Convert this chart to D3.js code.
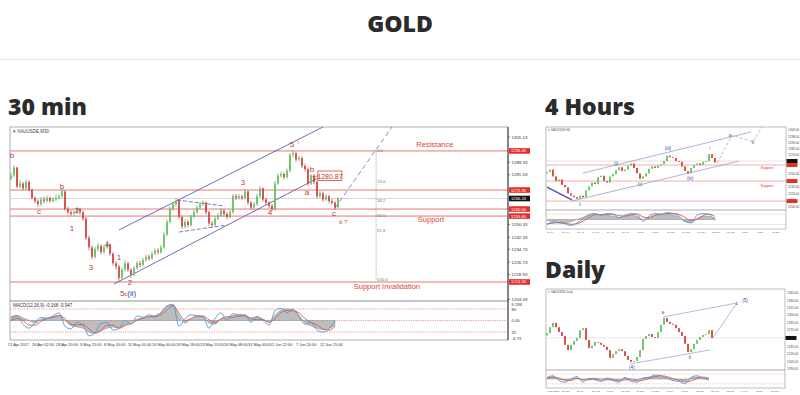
<!DOCTYPE html>
<html><head><meta charset="utf-8">
<script src="https://cdn.jsdelivr.net/npm/d3@7"></script>
<style>body{margin:0;background:#fff;}svg{display:block;}</style>
</head><body>
<svg id="c" width="800" height="395"></svg>
<script>
// ================= DATA =================
// ---- 30 min chart (XAUUSD M30) ----
const m30Open0 = 1279;
const m30Close = [1281,1286,1274,1276,1273,1277,1272,1267,1265,1263,
1266,1265,1267,1265,1266,1267,1268,1271,1260,1258,
1257,1258,1260,1258,1254,1242,1236,1230,1235,1237,
1233,1236,1238,1232,1226,1224,1217,1222,1226,1222,
1219,1223,1226,1225,1228,1230,1229,1232,1234,1233,
1236,1244,1252,1260,1263,1265,1255,1249,1252,1250,
1255,1258,1261,1263,1264,1258,1251,1250,1254,1256,
1259,1257,1255,1258,1268,1267,1268,1267,1271,1264,
1261,1263,1268,1273,1266,1264,1262,1260,1276,1281,
1282,1280,1284,1294,1295,1291,1292,1287,1285,1276,
1281,1277,1268,1270,1266,1268,1265,1264,1261,1266.6];
const m30High = [1283,1287.5,1286.5,1278,1277,1278.5,1278,1273,1268,1266,
1267.5,1268,1268.5,1268,1267.5,1269,1269.5,1273,1271.5,1261.5,
1259.5,1259.5,1261.5,1261,1259,1255,1243.5,1237,1236.5,1239,
1238,1237.5,1240,1238.5,1233,1227.5,1225,1223.5,1228,1227,
1223,1224.5,1227.5,1227.5,1229.5,1231.5,1231.5,1233.5,1235.5,1235.5,
1237.5,1245.5,1253.5,1261.5,1264.5,1266.5,1266,1256,1253.5,1253,
1256.5,1259.5,1262.5,1264.5,1265.5,1265,1259,1252.5,1255.5,1257.5,
1260.5,1260,1258,1259.5,1269.5,1269.5,1269.5,1269,1272.5,1271.5,
1265,1264.5,1269.5,1274.5,1273.5,1267,1265,1263,1277.5,1282.5,
1283.5,1283,1285.5,1295,1296.5,1296,1293.5,1293,1288.5,1286,
1282,1282,1278,1271.5,1271,1269.5,1269,1266.5,1265,1267.5];
const m30Low = [1278,1280,1273,1273,1271.5,1272,1271,1266,1263.5,1261.5,
1262,1263.5,1264,1264,1264,1265,1266,1267,1259,1256.5,
1255.5,1256,1257,1256.5,1252.5,1240.5,1234,1228.5,1229,1233.5,
1231.5,1232,1235,1230.5,1224.5,1222,1215,1216,1221,1220.5,
1217,1218,1222,1223.5,1224,1227,1227.5,1228,1231,1231.5,
1232,1235,1243,1251,1259,1261.5,1253.5,1247.5,1248,1248.5,
1249,1254,1257,1260,1262,1256.5,1249.5,1248.5,1249,1253,
1255,1255.5,1253.5,1254,1257,1265.5,1266,1265.5,1266,1262.5,
1259.5,1260,1262,1267,1264.5,1262.5,1260.5,1258.5,1259,1275,
1279.5,1278.5,1279,1283,1292.5,1289.5,1290,1285.5,1283.5,1274.5,
1275,1275.5,1266.5,1267,1264.5,1265,1263.5,1262.5,1259.5,1260.5];
const m30Levels = [1296.4, 1271.9, 1260.0, 1255.6, 1214.3];
const m30LevelText = ["1296.40","1271.90","1260.00","1255.60","1214.30"];
const m30Current = 1266.6;
const m30TickVals = [1305.13,1289.33,1281.53,1250.33,1242.33,1234.73,1226.73,1218.93,1203.33];
const m30DateLabels = ["21 Apr 2017","26 Apr 02:00","28 Apr 20:00","3 May 15:00","8 May 10:00","11 May 05:00","16 May 00:00","18 May 18:00","23 May 13:00","26 May 08:00","31 May 03:00","2 Jun 22:00","7 Jun 20:00","12 Jun 15:00"];
const m30DateIdx = [0,8,16,24,32,40,48,56,64,72,80,88,96,104];
// indicator values, one every 2 bars
const m30StochK = [55,62,40,30,45,58,55,62,70,35,28,45,38,10,18,42,45,25,30,50,40,62,58,65,60,72,88,92,35,55,65,62,60,30,55,70,50,68,60,65,45,60,50,38,75,82,70,80,60,40,45,25,20,28,50];
const m30StochD = [50,55,50,38,38,48,55,58,63,55,40,38,40,28,18,25,38,38,30,38,42,50,56,60,60,65,78,88,70,50,55,62,62,52,45,55,60,58,62,62,55,52,52,45,55,70,76,75,70,55,45,38,28,25,35];
const m30Macd = [1.5,2,1,0,-1,0.5,1,1.5,2,0,-2,-2.5,-3,-4.5,-5,-4,-3,-2.5,-3,-2,-0.5,0.5,1,1.5,2,3,5.5,6,2,-1,0.5,1.5,1.5,-1,-1.5,0.5,1,2,2.5,2,1,1.5,0.5,-0.5,2,4,4.5,4,2,-1,-2,-3,-3.5,-3,-2];
const m30IndTicks = [["6.296",6.296,"h"],["80",80,"s"],["0.00",50,"s"],["20",20,"s"],["-6.73",-6.73,"h"]];
// trend lines [bar index, price]
const m30Channel = [[[36,1246.9],[104,1311.4]], [[34.3,1213.0],[103,1280.1]]];
const m30Triangle = [[[55.3,1265.6],[71.3,1261.9]], [[56,1245.6],[72,1250.0]]];
const m30Projection = [[108,1260.6],[127,1311.4]];
const fibHigh = 1296, fibLow = 1215, fibIdx = 121.7;
const fibRatios = [0, 23.6, 38.2, 50.0, 61.8, 100.0];
// wave labels [text, bar index, price, colour]
const m30Waves = [["b",0.3,1292,"r"],["c",9.3,1256.9,"r"],["b",17,1272.6,"r"],["1",20.3,1246.2,"r"],["2",22,1257.5,"r"],
["3",26.7,1221.8,"r"],["4",32,1236.2,"r"],["1",36,1228.1,"r"],["2",39.7,1212.4,"r"],
["3",77.3,1275.1,"r"],["4",86.3,1256.3,"r"],["5",93.7,1298.9,"r"],["a",98.7,1268.8,"r"],["b",100.3,1283.2,"r"],["c",107.7,1255.6,"r"]];
const m30Notes = [["Resistance",141.3,1298.9],["Support",140,1251.9],["Support Invalidation",125.3,1210.2]];

// ---- 4 hour chart ----
const h4Close = [1252,1255,1246,1240,1242,1235,1232,1224,1221,1219,1217,1221,1219,1228,1233,1238,1236,1245,1247,1240,
1238,1246,1249,1254,1258,1253,1255,1260,1263,1257,1250,1243,1246,1250,1256,1259,1257,1260,1262,1266,
1273,1271,1270,1266,1265,1259,1253,1250,1257,1261,1263,1261,1265,1266,1275,1270,1264];
const h4Open0 = 1250;
const h4Levels = [1260.8, 1240, 1214];
const h4Current = 1266;
const h4TickVals = [1306,1298,1290,1282,1274,1250,1232,1224,1206];
const h4DateLabels = ["5 Apr","10 Apr","13 Apr","19 Apr","24 Apr","27 Apr","3 May","8 May","11 May","16 May","19 May","25 May","30 May","2 Jun","7 Jun","12 Jun"];
const h4StochK = [20,35,30,25,15,30,55,80,85,75,85,80,60,75,85,80,40,70,85,80,90,85,70,40,30,75,85,80,45];
const h4StochD = [25,28,32,28,22,25,40,62,78,80,80,82,72,70,78,82,65,60,75,82,85,86,80,62,45,52,72,82,68];
const h4Macd = [-1,-2,-3,-3,-2,0,2,4,5,4,4,3,2,3,4,3,0,2,4,4,5,4,2,-2,-3,1,3,3,1];
const h4Channel = [[[12,1250.4],[68,1303.7]], [[8.3,1214],[64,1266]]];
const h4Thick = [[0,1232.2],[8.3,1215.4]];
const h4Projection = [[56.7,1263.4],[61.7,1299.8],[68.7,1290.7],[72,1312.8]];
const h4Waves = [["ii",11,1207.6,"g"],["(i)",23,1260.8,"b"],["(ii)",31,1233.5,"g"],["(iii)",40.3,1280.3,"b"],["(iv)",47.7,1241.3,"b"],["i",54.3,1280.3,"r"],["a",61,1297.2,"r"],["b",68.7,1288,"r"]];
const h4Notes = [["Support",73.3,1255.6],["Support",73.3,1232.2]];

// ---- daily chart ----
const d1Close = [1263,1275,1284,1275,1265,1257,1239,1228,1239,1247,1253,1269,1273,1249,1232,1237,1245,1243,1239,1235,
1228,1212,1220,1226,1230,1226,1216,1208,1204,1206,1214,1228,1251,1257,1261,1255,1253,1265,1280,1294,
1286,1282,1280,1273,1265,1257,1241,1224,1230,1241,1249,1255,1259,1261,1269,1253];
const d1Open0 = 1258;
const d1Current = 1253;
const d1TickVals = [1345,1330,1315,1300,1285,1270,1235,1220,1205,1190];
const d1DateLabels = ["1 Jun 2016","27 Jun","20 Jul","12 Aug","6 Sep","29 Sep","24 Oct","16 Nov","9 Dec","3 Jan","26 Jan","20 Feb","15 Mar","7 Apr","2 May","25 May"];
const d1StochK = [60,70,40,30,50,65,30,55,45,35,50,40,30,60,35,30,55,60,75,70,55,40,35,20,60,70,55,45];
const d1StochD = [55,62,55,42,40,55,45,45,48,42,45,45,38,45,45,38,42,52,65,70,65,52,42,32,38,55,62,55];
const d1Macd = [1,2,0,-1,0,1,-1,0,1,0,1,0,-1,1,0,-1,1,2,3,2,1,0,-1,-2,1,2,1,0];
const d1Upper = [[38.7,1296],[63.3,1324.7]];
const d1Lower = [[27.7,1199.6],[54.3,1228.4]];
const d1Projection = [[55.3,1253],[63.3,1324.7]];
const d1Waves = [["(4)",28.3,1189.4,"b"],["a",38.7,1302.2,"r"],["b",47.7,1209.9,"r"],["c",63.3,1320.6,"r"],["(5)",66,1326.8,"b"]];

// ================= DRAWING =================
const svg = d3.select('#c');
const FONT = 'Liberation Sans, Arial, sans-serif';
const RED = '#e26a63', WAVE = '#b8403c', BLUE = '#2b4aa8', GREEN = '#3d9a3d';
const colourOf = c => c === 'r' ? WAVE : c === 'b' ? BLUE : GREEN;

// header
svg.append('text').attr('x',400).attr('y',32).attr('text-anchor','middle')
  .attr('font-family','Open Sans, sans-serif').attr('font-weight',800).attr('font-size',23).attr('fill','#2b2b2b').text('GOLD');
svg.append('line').attr('x1',0).attr('x2',800).attr('y1',59.5).attr('y2',59.5).attr('stroke','#e6e6e6');
[["30 min",8,115],["4 Hours",545,115],["Daily",545,278]].forEach(h=>{
  svg.append('text').attr('x',h[1]).attr('y',h[2]).attr('font-family','Open Sans, sans-serif')
    .attr('font-weight',800).attr('font-size',23).attr('fill','#2b2b2b').text(h[0]);
});

function drawCandles(g, x, y, open0, close, high, low, bw){
  const opens = close.map((c,i)=> i===0 ? open0 : close[i-1]);
  if (high) {
    g.append('g').selectAll('line').data(close).join('line')
      .attr('x1',(d,i)=>x(i)).attr('x2',(d,i)=>x(i))
      .attr('y1',(d,i)=>y(high[i])).attr('y2',(d,i)=>y(low[i]))
      .attr('stroke',(d,i)=> d>=opens[i] ? '#3f8f3f' : '#a52a2a').attr('stroke-width',0.6);
  }
  g.append('g').selectAll('rect').data(close).join('rect')
    .attr('x',(d,i)=>x(i)-bw/2).attr('width',bw)
    .attr('y',(d,i)=>y(Math.max(d,opens[i])))
    .attr('height',(d,i)=>Math.max(0.7, Math.abs(y(d)-y(opens[i]))))
    .attr('fill',(d,i)=> d>=opens[i] ? '#62c462' : '#d9413b');
}

function drawIndicator(g, x, ys, yh, step, k, dline, macd){
  const area = d3.area().x((d,i)=>x(i*step)).y0(yh(0)).y1(d=>yh(d)).curve(d3.curveMonotoneX);
  g.append('path').attr('d',area(macd)).attr('fill','#bdbdbd').attr('stroke','#8a8a8a').attr('stroke-width',0.5);
  const line = d3.line().x((d,i)=>x(i*step)).y(d=>ys(d)).curve(d3.curveMonotoneX);
  g.append('path').attr('d',line(dline)).attr('fill','none').attr('stroke','#e0574f').attr('stroke-width',0.9);
  g.append('path').attr('d',line(k)).attr('fill','none').attr('stroke','#4f97dc').attr('stroke-width',0.9);
}

// ---------- 30 MIN ----------
(function(){
  const L=10, R=508, T=127, MB=301, B=340;
  const x = d3.scaleLinear().domain([-1/3, 165.667]).range([L, R]);
  const y = d3.scaleLinear().domain([1203.33, 1305.13]).range([299.5, 137]);
  const ys = d3.scaleLinear().domain([0,100]).range([339.7, 301.3]);
  const yh = d3.scaleLinear().domain([-6.73, 6.296]).range([338, 304]);
  const g = svg.append('g');
  g.append('defs').append('clipPath').attr('id','m30clip').append('rect').attr('x',L).attr('y',T).attr('width',R-L).attr('height',MB-T);
  g.append('rect').attr('x',L).attr('y',T).attr('width',R-L).attr('height',B-T).attr('fill','#fff').attr('stroke','#9a9a9a').attr('stroke-width',0.8);
  g.append('line').attr('x1',L).attr('x2',R).attr('y1',MB).attr('y2',MB).attr('stroke','#777').attr('stroke-width',0.8);
  const main = g.append('g').attr('clip-path','url(#m30clip)');
  main.selectAll('line.lev').data(m30Levels).join('line').attr('class','lev')
    .attr('x1',L).attr('x2',R).attr('y1',d=>y(d)).attr('y2',d=>y(d)).attr('stroke',RED).attr('stroke-width',0.9);
  main.append('line').attr('x1',L).attr('x2',R).attr('y1',y(m30Current)).attr('y2',y(m30Current)).attr('stroke','#cfcfcf').attr('stroke-width',0.8);
  const lineGen = d3.line().x(d=>x(d[0])).y(d=>y(d[1]));
  m30Channel.forEach(c=> main.append('path').attr('d',lineGen(c)).attr('stroke','#5d5fb0').attr('stroke-width',0.9).attr('fill','none'));
  m30Triangle.forEach(c=> main.append('path').attr('d',lineGen(c)).attr('stroke','#6a6cb8').attr('stroke-width',0.9).attr('stroke-dasharray','4,2').attr('fill','none'));
  main.append('path').attr('d',lineGen(m30Projection)).attr('stroke','#7a7cc0').attr('stroke-width',0.9).attr('stroke-dasharray','5,3').attr('fill','none');
  main.append('line').attr('x1',x(fibIdx)).attr('x2',x(fibIdx)).attr('y1',y(fibHigh)).attr('y2',y(fibLow))
    .attr('stroke','#666').attr('stroke-width',0.7).attr('stroke-dasharray','1,1.5');
  main.selectAll('text.fib').data(fibRatios).join('text').attr('class','fib')
    .attr('x',x(fibIdx)+1).attr('y',d=>y(fibHigh-(fibHigh-fibLow)*d/100)+0.6)
    .attr('font-family',FONT).attr('font-size',4.2).attr('fill',GREEN).text(d=>d.toFixed(1));
  drawCandles(main, x, y, m30Open0, m30Close, m30High, m30Low, 1.7);
  main.selectAll('text.w').data(m30Waves).join('text').attr('class','w')
    .attr('x',d=>x(d[1])).attr('y',d=>y(d[2])).attr('text-anchor','middle')
    .attr('font-family',FONT).attr('font-size',8).attr('fill',d=>colourOf(d[3])).text(d=>d[0]);
  const t = main.append('text').attr('x',x(36.3)).attr('y',y(1205.5)).attr('font-family',FONT).attr('font-size',8);
  t.append('tspan').attr('fill',WAVE).text('5');
  t.append('tspan').attr('fill',WAVE).attr('font-size',6).text('c');
  t.append('tspan').attr('fill',BLUE).text('(ii)');
  main.append('text').attr('x',x(95.5)).attr('y',y(1300.5)).attr('font-family',FONT).attr('font-size',5).attr('fill',WAVE).text('i');
  main.append('text').attr('x',x(109.3)).attr('y',y(1250.6)).attr('font-family',FONT).attr('font-size',5.5).attr('fill','#a0522d').text('iii ?');
  main.append('line').attr('x1',x(100.4)).attr('x2',x(102.3)).attr('y1',y(1280.2)).attr('y2',y(1280.7)).attr('stroke','#d9413b').attr('stroke-width',0.7);
  main.append('rect').attr('x',x(102.3)).attr('y',y(1280.7)-5).attr('width',24).attr('height',9.5).attr('fill','#fff').attr('stroke','#d9413b').attr('stroke-width',0.8);
  main.append('text').attr('x',x(102.3)+12).attr('y',y(1280.7)+2.6).attr('text-anchor','middle').attr('font-family',FONT).attr('font-size',7).attr('fill','#c0392b').text('1280.87');
  main.selectAll('text.n').data(m30Notes).join('text').attr('class','n')
    .attr('x',d=>x(d[1])).attr('y',d=>y(d[2])).attr('text-anchor','middle')
    .attr('font-family',FONT).attr('font-size',7.5).attr('fill','#e0413a').text(d=>d[0]);
  g.append('text').attr('x',13).attr('y',132.5).attr('font-family',FONT).attr('font-size',4.5).attr('fill','#444').text('\u25BE XAUUSDE,M30');
  g.append('line').attr('x1',R).attr('x2',R).attr('y1',T).attr('y2',B).attr('stroke','#222').attr('stroke-width',0.9);
  const ax = g.append('g');
  ax.selectAll('text').data(m30TickVals).join('text').attr('x',R+3.5).attr('y',d=>y(d)+1.6)
    .attr('font-family',FONT).attr('font-size',4.4).attr('fill','#333').text(d=>d.toFixed(2));
  ax.selectAll('line').data(m30TickVals).join('line').attr('x1',R).attr('x2',R+2).attr('y1',d=>y(d)).attr('y2',d=>y(d)).attr('stroke','#333').attr('stroke-width',0.6);
  const boxes = m30Levels.map((v,i)=>[v,m30LevelText[i],'#e3302a']).concat([[m30Current,'1266.26','#111']]);
  const bx = g.append('g').selectAll('g').data(boxes).join('g');
  bx.append('rect').attr('x',R+1).attr('y',d=>y(d[0])-2.8).attr('width',21).attr('height',5.6).attr('fill',d=>d[2]);
  bx.append('text').attr('x',R+3).attr('y',d=>y(d[0])+1.5).attr('font-family',FONT).attr('font-size',4.2).attr('fill','#fff').text(d=>d[1]);
  const ind = g.append('g');
  [80,50,20].forEach(v=> ind.append('line').attr('x1',L).attr('x2',R).attr('y1',ys(v)).attr('y2',ys(v)).attr('stroke','#e06b66').attr('stroke-width',0.7).attr('stroke-dasharray','1.2,1.2'));
  drawIndicator(ind, x, ys, yh, 2, m30StochK, m30StochD, m30Macd);
  ind.append('text').attr('x',13).attr('y',306.5).attr('font-family',FONT).attr('font-size',4.5).attr('fill','#333').text('MACD(12,26,9) -0.168 -0.947');
  ind.selectAll('text.it').data(m30IndTicks).join('text').attr('class','it').attr('x',R+3.5)
    .attr('y',d=>(d[2]==='h'?yh(d[1]):ys(d[1]))+1.6).attr('font-family',FONT).attr('font-size',4.2).attr('fill','#333').text(d=>d[0]);
  g.selectAll('text.dt').data(m30DateLabels).join('text').attr('class','dt')
    .attr('x',(d,i)=>x(m30DateIdx[i])-3).attr('y',346).attr('font-family',FONT).attr('font-size',3.9).attr('fill','#333').text(d=>d);
})();

// ---------- mini charts ----------
function drawMini(o){
  const x = d3.scaleLinear().domain([-1/3, (o.R-o.L)/3 - 1/3]).range([o.L, o.R]);
  const y = d3.scaleLinear().domain(o.yDom).range([o.MB, o.T]);
  const ys = d3.scaleLinear().domain([0,100]).range([o.B-1, o.MB+1]);
  const yh = d3.scaleLinear().domain([-8,8]).range([o.B-1, o.MB+1]);
  const g = svg.append('g');
  const cid = 'clip'+o.id;
  g.append('defs').append('clipPath').attr('id',cid).append('rect').attr('x',o.L).attr('y',o.T).attr('width',o.R-o.L).attr('height',o.MB-o.T);
  g.append('rect').attr('x',o.L).attr('y',o.T).attr('width',o.R-o.L).attr('height',o.B-o.T).attr('fill','#fff').attr('stroke','#a0a0a0').attr('stroke-width',0.7);
  g.append('line').attr('x1',o.L).attr('x2',o.R).attr('y1',o.MB).attr('y2',o.MB).attr('stroke','#888').attr('stroke-width',0.7);
  const main = g.append('g').attr('clip-path',`url(#${cid})`);
  (o.levels||[]).forEach(v=> main.append('line').attr('x1',o.L).attr('x2',o.R).attr('y1',y(v)).attr('y2',y(v)).attr('stroke','#ef9a96').attr('stroke-width',0.8));
  main.append('line').attr('x1',o.L).attr('x2',o.R).attr('y1',y(o.current)).attr('y2',y(o.current)).attr('stroke','#d8d8d8').attr('stroke-width',0.7);
  const lg = d3.line().x(d=>x(d[0])).y(d=>y(d[1]));
  (o.lines||[]).forEach(l=> main.append('path').attr('d',lg(l.pts)).attr('fill','none').attr('stroke',l.c).attr('stroke-width',l.w||0.7).attr('stroke-dasharray',l.dash||null));
  drawCandles(main, x, y, o.open0, o.close, null, null, 1.8);
  main.selectAll('text.w').data(o.waves).join('text').attr('class','w').attr('x',d=>x(d[1])).attr('y',d=>y(d[2]))
    .attr('text-anchor','middle').attr('font-family',FONT).attr('font-size',4.6).attr('fill',d=>colourOf(d[3])).text(d=>d[0]);
  main.selectAll('text.n').data(o.notes||[]).join('text').attr('class','n').attr('x',d=>x(d[1])).attr('y',d=>y(d[2]))
    .attr('text-anchor','middle').attr('font-family',FONT).attr('font-size',3.6).attr('fill','#d9413b').text(d=>d[0]);
  g.append('text').attr('x',o.L+2).attr('y',o.T+4).attr('font-family',FONT).attr('font-size',3).attr('fill','#555').text(o.title);
  g.append('g').selectAll('text').data(o.ticks).join('text').attr('x',o.R+2).attr('y',d=>y(d)+1.2)
    .attr('font-family',FONT).attr('font-size',3.1).attr('fill','#444').text(d=>d.toFixed(2));
  const bxs = (o.levels||[]).map(v=>[v,'#e3302a']).concat([[o.current,'#111']]);
  g.append('g').selectAll('rect').data(bxs).join('rect').attr('x',o.R+0.5).attr('y',d=>y(d[0])-2).attr('width',11).attr('height',4).attr('fill',d=>d[1]);
  const ind = g.append('g');
  [80,20].forEach(v=> ind.append('line').attr('x1',o.L).attr('x2',o.R).attr('y1',ys(v)).attr('y2',ys(v)).attr('stroke','#f0a09c').attr('stroke-width',0.6).attr('stroke-dasharray','1,1'));
  drawIndicator(ind, x, ys, yh, 2, o.k, o.d, o.macd);
  g.selectAll('text.dt').data(o.dates).join('text').attr('class','dt')
    .attr('x',(d,i)=>o.L+1+i*(o.R-o.L)/o.dates.length).attr('y',o.B+3.5).attr('font-family',FONT).attr('font-size',2.5).attr('fill','#555').text(d=>d);
}

drawMini({id:'h4', L:546, R:786, T:127, MB:210, B:229, yDom:[1202.4,1310.2], open0:h4Open0, close:h4Close,
  levels:h4Levels, current:h4Current, ticks:h4TickVals, dates:h4DateLabels, k:h4StochK, d:h4StochD, macd:h4Macd,
  waves:h4Waves, notes:h4Notes, title:'\u25BE XAUUSDE,H4',
  lines:[{pts:h4Channel[0],c:'#8f91c9'},{pts:h4Channel[1],c:'#8f91c9'},{pts:h4Thick,c:'#4a56b0',w:1.4},{pts:h4Projection,c:'#9a9cd0',dash:'3,2'}]});

drawMini({id:'d1', L:546, R:785, T:289, MB:370, B:388, yDom:[1187.3,1353.4], open0:d1Open0, close:d1Close,
  levels:[], current:d1Current, ticks:d1TickVals, dates:d1DateLabels, k:d1StochK, d:d1StochD, macd:d1Macd,
  waves:d1Waves, notes:[], title:'\u25BE XAUUSDE,Daily',
  lines:[{pts:d1Upper,c:'#9a9cd0'},{pts:d1Lower,c:'#9a9cd0'},{pts:d1Projection,c:'#9a9cd0'}]});
</script>
</body></html>
